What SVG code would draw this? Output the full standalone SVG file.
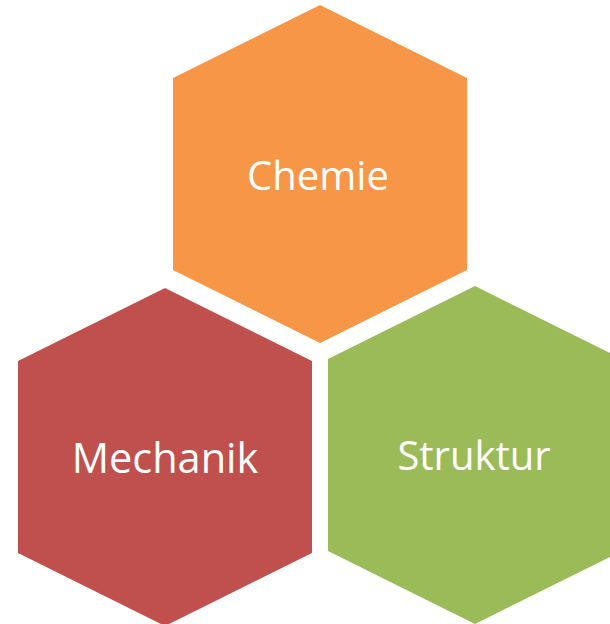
<svg xmlns="http://www.w3.org/2000/svg" width="610" height="624" viewBox="0 0 610 624">
<style>
.lbl{font-family:"Open Sans","Liberation Sans",sans-serif;font-size:40px;fill:#ffffff;text-anchor:middle}
</style>
<rect width="610" height="624" fill="#ffffff"/>
<g id="chemie">
<polygon points="320,5 467,78 467,270 320,343 173,270 173,78" fill="#F79646"/>
<text class="lbl" x="318" y="190">Chemie</text>
</g>
<g id="mechanik">
<polygon points="165,288 312,361 312,553 165,626 18,553 18,361" fill="#C0504D"/>
<text class="lbl" x="165" y="473" style="font-size:41.5px">Mechanik</text>
</g>
<g id="struktur">
<polygon points="475,286 622,359 622,551 475,624 328,551 328,359" fill="#9BBB59"/>
<text class="lbl" x="474" y="470">Struktur</text>
</g>
<g id="connectors"></g>
</svg>
